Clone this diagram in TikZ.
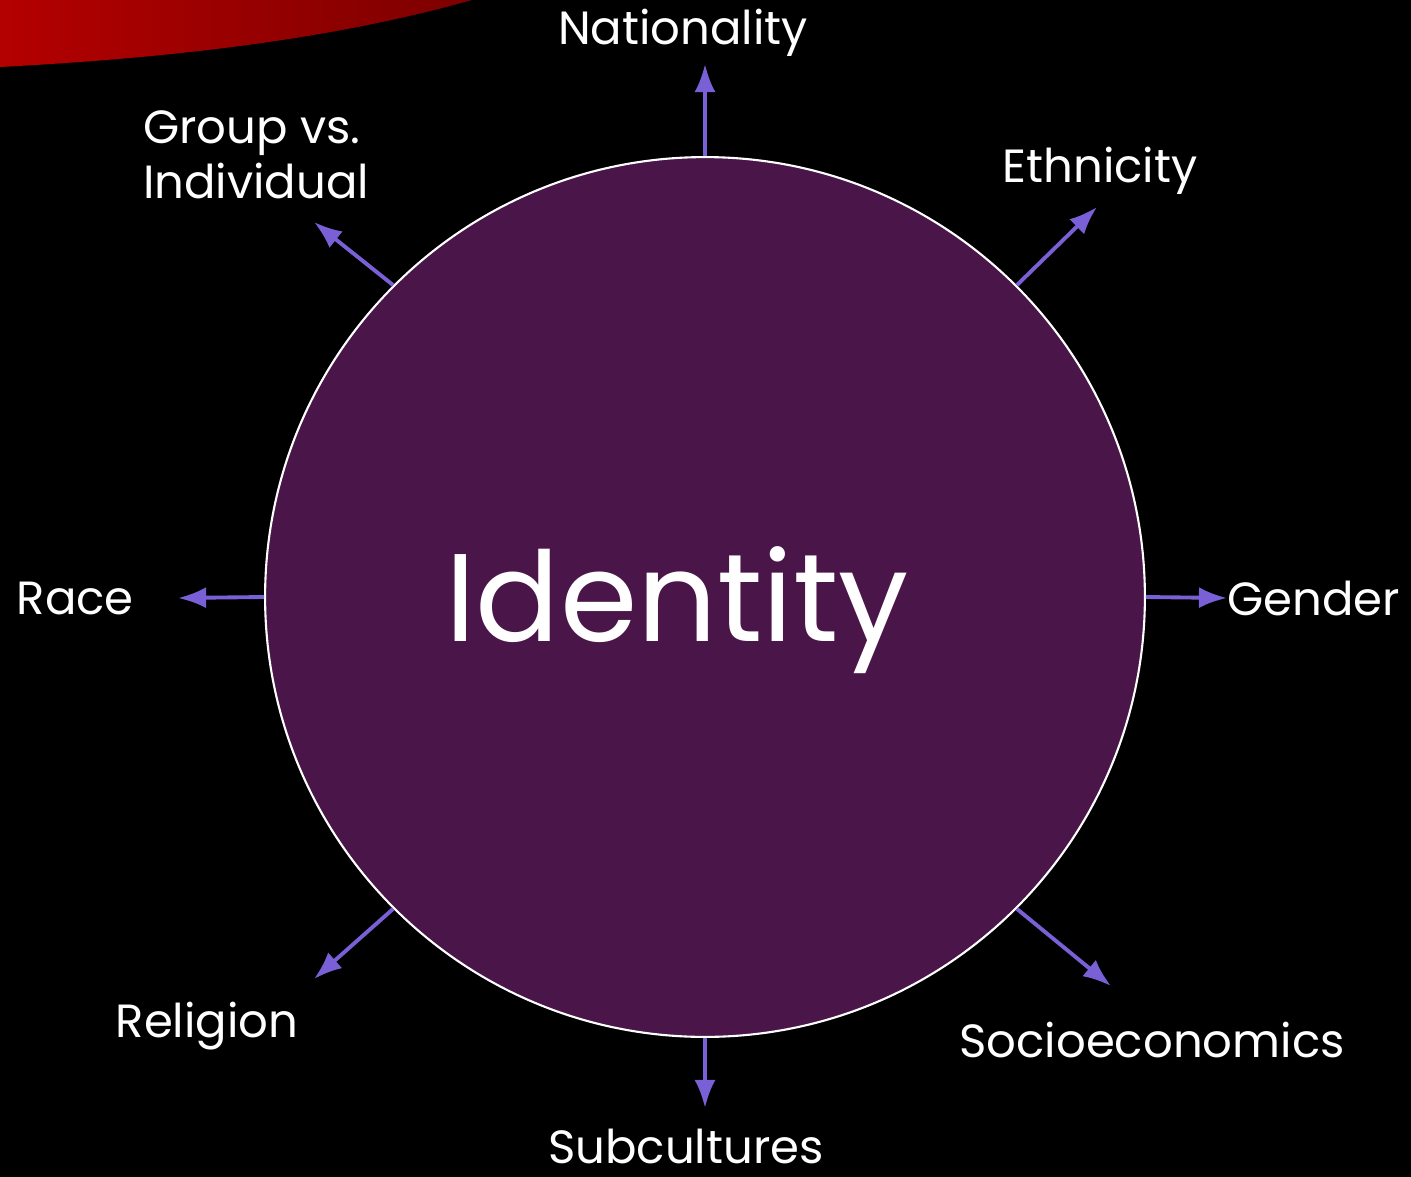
\documentclass[tikz,border=0pt]{standalone}
\usepackage{fontspec}
\setmainfont{Poppins}
\usepackage{tikz}
\definecolor{plum}{RGB}{74,21,72}
\definecolor{arrowblue}{RGB}{122,96,214}
\definecolor{swooshred}{RGB}{180,0,0}
\definecolor{swooshdark}{RGB}{125,0,0}
\tikzset{
  link/.style={draw=arrowblue,line width=2.2pt,-{Latex[length=16pt,width=12pt]}},
  tag/.style={text=white,font=\fontsize{26.5}{31}\selectfont,inner sep=0pt}
}
\usetikzlibrary{arrows.meta}
\begin{document}
\begin{tikzpicture}[x=0.02cm,y=-0.02cm]
        % background
        \fill[black] (0,0) rectangle (1411,1177);
        \useasboundingbox (0,0) rectangle (1411,1177);
        % red swoosh
        \scope
        \shade[left color=swooshred,right color=swooshdark]
            (0,0) -- (472,0) .. controls (330,40) and (170,58) .. (0,67) -- cycle;
        \endscope
        % centre
        \node[circle,fill=plum,draw=white,line width=1.2pt,minimum size=17.6cm,inner sep=0pt] (identity) at (705,597) {};
        \node[text=white,font=\fontsize{71}{80}\selectfont,inner sep=0pt] (idtext) at (677,610) {Identity};
        % tips
        \coordinate (tipNat) at (705,64);
        \coordinate (tipEth) at (1097,207);
        \coordinate (tipGen) at (1227,598);
        \coordinate (tipSoc) at (1111,986);
        \coordinate (tipSub) at (705,1108);
        \coordinate (tipRel) at (314,979);
        \coordinate (tipRac) at (178,598);
        \coordinate (tipGrp) at (314,222);
        % labels
        \node[tag] (nat) at (683,33) {Nationality};
        \node[tag] (eth) at (1100,171) {Ethnicity};
        \node[tag,anchor=west] (gen) at (1227,598) {Gender};
        \node[tag] (soc) at (1152,1040) {Socioeconomics};
        \node[tag] (sub) at (686,1146) {Subcultures};
        \node[tag] (rel) at (207,1026) {Religion};
        \node[tag,anchor=east] (rac) at (134,598) {Race};
        \node[tag,align=left] (grp) at (256,155) {Group vs.\\Individual};
        % arrows
        \draw[link] (identity.90) -- (tipNat);
        \draw[link] (identity.45) -- (tipEth);
        \draw[link] (identity.0) -- (tipGen);
        \draw[link] (identity.-45) -- (tipSoc);
        \draw[link] (identity.-90) -- (tipSub);
        \draw[link] (identity.-135) -- (tipRel);
        \draw[link] (identity.180) -- (tipRac);
        \draw[link] (identity.135) -- (tipGrp);
    \end{tikzpicture}
\end{document}
